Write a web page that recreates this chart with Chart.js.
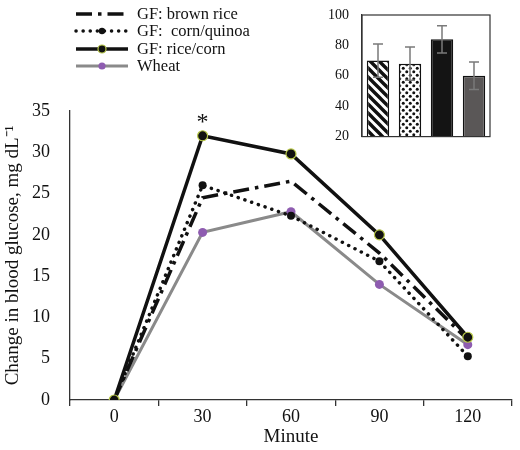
<!DOCTYPE html>
<html><head><meta charset="utf-8">
<script src="https://cdn.jsdelivr.net/npm/chart.js@4.4.1/dist/chart.umd.min.js"></script>
<style>
html,body{margin:0;padding:0;background:#fff;}
#wrap{position:relative;width:520px;height:450px;overflow:hidden;}
</style></head><body>
<div id="wrap">
<div style="position:absolute;left:0;top:0;width:520px;height:450px"><canvas id="main"></canvas></div>
<div style="position:absolute;left:300px;top:0;width:210px;height:150px"><canvas id="inset"></canvas></div>
</div>
<script>
// ---- data ----
const minutes = ['0', '30', '60', '90', '120'];
const brownRice = [0, 24.5, 26.5, 17.8, 7.3];
const cornQuinoa = [0, 26.0, 22.3, 16.8, 5.3];
const riceCorn = [0, 32.0, 29.8, 20.0, 7.6];
const wheat = [0, 20.3, 22.8, 14.0, 6.7];
const seriesNames = ['GF: brown rice', 'GF:  corn/quinoa', 'GF: rice/corn', 'Wheat'];
const yMin = 0, yMax = 35, yStep = 5;
const insetCategories = ['GF: brown rice', 'GF: corn/quinoa', 'GF: rice/corn', 'Wheat'];
const insetValues = [70, 68, 84, 60];
const insetErrors = [11, 11, 9, 9];
const insetMin = 20, insetMax = 100, insetStep = 20;
const starIndex = 1;

const SERIF = "'Liberation Serif','Times New Roman',serif";

// ---- main chart ----
const dsBrown = {label: seriesNames[0], data: brownRice, borderColor: '#111', backgroundColor: '#111',
  borderWidth: 3.5, borderDash: [16, 6, 3.5, 6], pointRadius: 0, order: 3};
const dsCorn = {label: seriesNames[1], data: cornQuinoa, borderColor: '#111', backgroundColor: '#111',
  borderWidth: 3.5, borderDash: [0.1, 7], borderCapStyle: 'round', pointRadius: 4, pointBorderWidth: 0,
  pointBackgroundColor: '#111', order: 2};
const dsRice = {label: seriesNames[2], data: riceCorn, borderColor: '#111', backgroundColor: '#111',
  borderWidth: 3.5, pointRadius: 5, pointBackgroundColor: '#111', pointBorderColor: '#b9c94a',
  pointBorderWidth: 1.2, order: 1};
const dsWheat = {label: seriesNames[3], data: wheat, borderColor: '#8a8a8a', backgroundColor: '#8a8a8a',
  borderWidth: 3, pointRadius: 4.5, pointBackgroundColor: '#8e5cb0', pointBorderWidth: 0, order: 4};

const legendPlugin = {
  id: 'customLegend',
  afterDraw(chart) {
    const ctx = chart.ctx;
    const items = [dsBrown, dsCorn, dsRice, dsWheat];
    const rows = [14, 31, 49, 66];
    const x0 = 76, x1 = 128, tx = 137;
    ctx.save();
    items.forEach((ds, i) => {
      const y = rows[i];
      ctx.beginPath();
      ctx.strokeStyle = ds.borderColor;
      ctx.lineWidth = ds.borderWidth;
      ctx.lineCap = ds.borderCapStyle || 'butt';
      ctx.setLineDash(ds.borderDash || []);
      ctx.moveTo(x0, y); ctx.lineTo(x1, y); ctx.stroke();
      ctx.setLineDash([]);
      if (ds.pointRadius) {
        ctx.beginPath();
        ctx.arc((x0 + x1) / 2, y, ds.pointRadius * 0.8, 0, Math.PI * 2);
        ctx.fillStyle = ds.pointBackgroundColor;
        ctx.fill();
        if (ds.pointBorderWidth) {
          ctx.lineWidth = ds.pointBorderWidth;
          ctx.strokeStyle = ds.pointBorderColor;
          ctx.stroke();
        }
      }
      ctx.fillStyle = '#111';
      ctx.font = '16.5px ' + SERIF;
      ctx.textAlign = 'left';
      ctx.textBaseline = 'middle';
      ctx.fillText(ds.label, tx, y + 1);
    });
    // significance star
    const xs = chart.scales.x, ys = chart.scales.y;
    ctx.font = '24px ' + SERIF;
    ctx.textAlign = 'center';
    ctx.textBaseline = 'middle';
    ctx.fillText('*', xs.getPixelForValue(starIndex), ys.getPixelForValue(riceCorn[starIndex]) - 13);
    ctx.restore();
  }
};

new Chart(document.getElementById('main'), {
  type: 'line',
  data: {labels: minutes, datasets: [dsBrown, dsCorn, dsRice, dsWheat]},
  options: {
    responsive: true, maintainAspectRatio: false, animation: false,
    layout: {padding: {top: 111, right: 8, left: 0, bottom: 0}},
    plugins: {legend: {display: false}, tooltip: {enabled: false}},
    elements: {line: {tension: 0}},
    scales: {
      x: {
        type: 'category', offset: true,
        grid: {offset: true, drawOnChartArea: false, tickLength: 6, color: '#333', lineWidth: 1.3},
        border: {color: '#333', width: 1.3},
        ticks: {color: '#111', font: {family: SERIF, size: 18}, padding: 0, maxRotation: 0},
        title: {display: true, text: 'Minute', color: '#111', font: {family: SERIF, size: 19}, padding: {top: 0, bottom: 2}},
        afterFit(s) { s.height = 50; }
      },
      y: {
        min: yMin, max: yMax,
        grid: {display: false},
        border: {color: '#333', width: 1.3},
        ticks: {stepSize: yStep, color: '#111', font: {family: SERIF, size: 18}, padding: 12},
        title: {display: true, text: 'Change in blood glucose, mg dL\u207B\u00B9', color: '#111',
          font: {family: SERIF, size: 19}, padding: {top: 2, bottom: 0}},
        afterFit(s) { s.width = 70; }
      }
    }
  },
  plugins: [legendPlugin]
});

// ---- inset chart ----
function makePattern(kind) {
  const c = document.createElement('canvas');
  const g = c.getContext('2d');
  if (kind === 'hatch') {
    c.width = 9; c.height = 9;
    g.fillStyle = '#fff'; g.fillRect(0, 0, 9, 9);
    g.strokeStyle = '#111'; g.lineWidth = 3.4;
    g.beginPath();
    g.moveTo(-5, -5); g.lineTo(14, 14);
    g.moveTo(-5, 4); g.lineTo(5, 14);
    g.moveTo(4, -5); g.lineTo(14, 5);
    g.stroke();
  } else {
    c.width = 7; c.height = 7;
    g.fillStyle = '#fff'; g.fillRect(0, 0, 7, 7);
    g.fillStyle = '#111';
    g.beginPath(); g.arc(1.75, 1.75, 1.5, 0, Math.PI * 2); g.fill();
    g.beginPath(); g.arc(5.25, 5.25, 1.5, 0, Math.PI * 2); g.fill();
  }
  return g.createPattern(c, 'repeat');
}

const errorPlugin = {
  id: 'errorBars',
  afterDatasetsDraw(chart) {
    const ctx = chart.ctx, ys = chart.scales.y;
    const meta = chart.getDatasetMeta(0);
    ctx.save();
    ctx.strokeStyle = '#7a7a7a';
    ctx.lineWidth = 1.5;
    meta.data.forEach((bar, i) => {
      const top = ys.getPixelForValue(insetValues[i] + insetErrors[i]);
      const bot = ys.getPixelForValue(insetValues[i] - insetErrors[i]);
      ctx.beginPath();
      ctx.moveTo(bar.x, top); ctx.lineTo(bar.x, bot);
      ctx.moveTo(bar.x - 5, top); ctx.lineTo(bar.x + 5, top);
      ctx.moveTo(bar.x - 5, bot); ctx.lineTo(bar.x + 5, bot);
      ctx.stroke();
    });
    // frame
    const a = chart.chartArea;
    ctx.strokeStyle = '#333';
    ctx.lineWidth = 1.2;
    ctx.strokeRect(a.left, a.top, a.right - a.left, a.bottom - a.top);
    ctx.restore();
  }
};

new Chart(document.getElementById('inset'), {
  type: 'bar',
  data: {labels: insetCategories, datasets: [{
    data: insetValues,
    backgroundColor: [makePattern('hatch'), makePattern('dots'), '#141414', '#5a5757'],
    borderColor: '#111', borderWidth: 1.5, borderSkipped: 'bottom',
    categoryPercentage: 1, barPercentage: 0.7
  }]},
  options: {
    responsive: true, maintainAspectRatio: false, animation: false,
    layout: {padding: {top: 15, right: 20, left: 0, bottom: 12}},
    plugins: {legend: {display: false}, tooltip: {enabled: false}},
    scales: {
      x: {display: false},
      y: {
        min: insetMin, max: insetMax,
        grid: {display: false},
        border: {color: '#333', width: 1.2},
        ticks: {stepSize: insetStep, color: '#111', font: {family: SERIF, size: 14}, padding: 5},
        afterFit(s) { s.width = 62; }
      }
    }
  },
  plugins: [errorPlugin]
});
</script>
</body></html>
